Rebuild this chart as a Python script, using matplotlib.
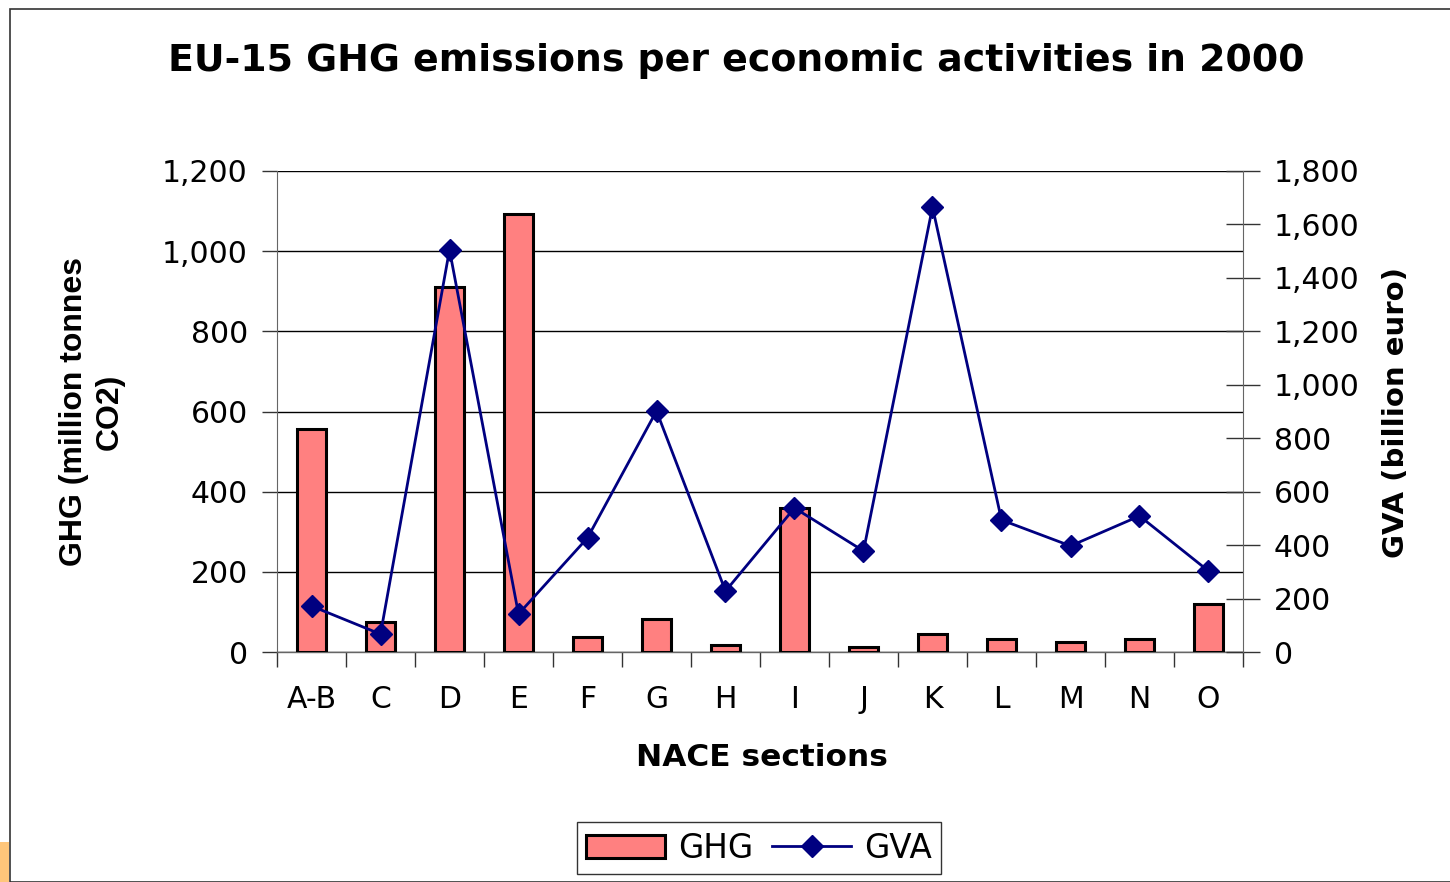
import numpy as np
import matplotlib.pyplot as plt
from matplotlib.patches import Rectangle
from matplotlib.ticker import FuncFormatter, MultipleLocator

# NACE sections and values
sections = ['A-B', 'C', 'D', 'E', 'F', 'G', 'H', 'I', 'J', 'K', 'L', 'M', 'N', 'O']
ghg = [556, 75, 911, 1093, 37, 82, 17, 359, 12, 45, 32, 25, 32, 120]      # million tonnes CO2
gva = [172, 67, 1505, 142, 427, 902, 228, 539, 378, 1665, 494, 397, 509, 303]  # billion euro

plt.rcParams['font.family'] = ['DejaVu Sans']

fig = plt.figure(figsize=[14.5, 8.82], dpi=100)
W, H = 1450, 882

# outer chart frame and slide decoration
fig.patches.append(Rectangle((10 / W, 0), 1.2, (882 - 9) / H, transform=fig.transFigure,
                             fill=False, edgecolor='#333333', linewidth=1.2))
fig.patches.append(Rectangle((0, 0), 9 / W, 40 / H, transform=fig.transFigure,
                             facecolor='#ffc67a', edgecolor='none'))

ax = fig.add_axes([277 / W, (882 - 652) / H, (1243 - 277) / W, (652 - 171) / H])
x = np.arange(len(sections))

ax.bar(x, ghg, width=0.42, color='#ff8080', edgecolor='black', linewidth=2.2,
       label='GHG', zorder=3)
ax.set_xlim(-0.5, len(sections) - 0.5)
ax.set_ylim(0, 1200)
ax.yaxis.set_major_locator(MultipleLocator(200))
ax.yaxis.set_major_formatter(FuncFormatter(lambda v, p: f'{int(v):,}'))
ax.grid(axis='y', color='black', linewidth=1, zorder=0)
ax.set_axisbelow(True)

ax.set_xticks(x)
ax.set_xticklabels(sections)
ax.set_xticks(np.arange(-0.5, len(sections)), minor=True)
ax.tick_params(axis='x', which='major', length=0, pad=24, labelsize=21.5)
ax.tick_params(axis='x', which='minor', length=11, width=1, color='#333333', direction='out')
ax.tick_params(axis='y', length=11, width=1, color='#333333', labelsize=21.5, pad=10)

for s in ['top', 'right']:
    ax.spines[s].set_visible(False)
ax.spines['left'].set_color('#666666')
ax.spines['bottom'].set_color('#666666')
ax.spines['bottom'].set_linewidth(1)

ax2 = ax.twinx()
ax2.plot(x, gva, color='#000080', linewidth=2, marker='D', markersize=11,
         label='GVA', zorder=4)
ax2.set_ylim(0, 1800)
ax2.yaxis.set_major_locator(MultipleLocator(200))
ax2.yaxis.set_major_formatter(FuncFormatter(lambda v, p: f'{int(v):,}'))
ax2.tick_params(axis='y', length=24, width=1, color='#333333', direction='inout',
                labelsize=21.5, pad=10)
for s in ['top', 'left', 'bottom']:
    ax2.spines[s].set_visible(False)
ax2.spines['right'].set_color('#666666')

fig.text(736 / W, 1 - 61 / H, 'EU-15 GHG emissions per economic activities in 2000',
         ha='center', va='center', fontsize=27.3, fontweight='bold')
fig.text(762 / W, 1 - 758 / H, 'NACE sections', ha='center', va='center',
         fontsize=22.5, fontweight='bold')
fig.text(92 / W, 1 - 412 / H, 'GHG (million tonnes\nCO2)', ha='center', va='center',
         rotation=90, fontsize=23, fontweight='bold', linespacing=1.25,
         family=['Liberation Sans Narrow', 'Liberation Sans'])
fig.text(1396 / W, 1 - 412 / H, 'GVA (billion euro)', ha='center', va='center',
         rotation=90, fontsize=21, fontweight='bold')

h1, l1 = ax.get_legend_handles_labels()
h2, l2 = ax2.get_legend_handles_labels()
leg = fig.legend(h1 + h2, l1 + l2, loc='center', bbox_to_anchor=(759 / W, 1 - 848 / H),
                 ncol=2, fontsize=23.5, frameon=True, fancybox=False, handlelength=2.4,
                 columnspacing=0.6, handletextpad=0.4, borderpad=0.3)
leg.get_frame().set_edgecolor('black')
leg.get_frame().set_linewidth(1)

plt.savefig('out.png', dpi=100)
